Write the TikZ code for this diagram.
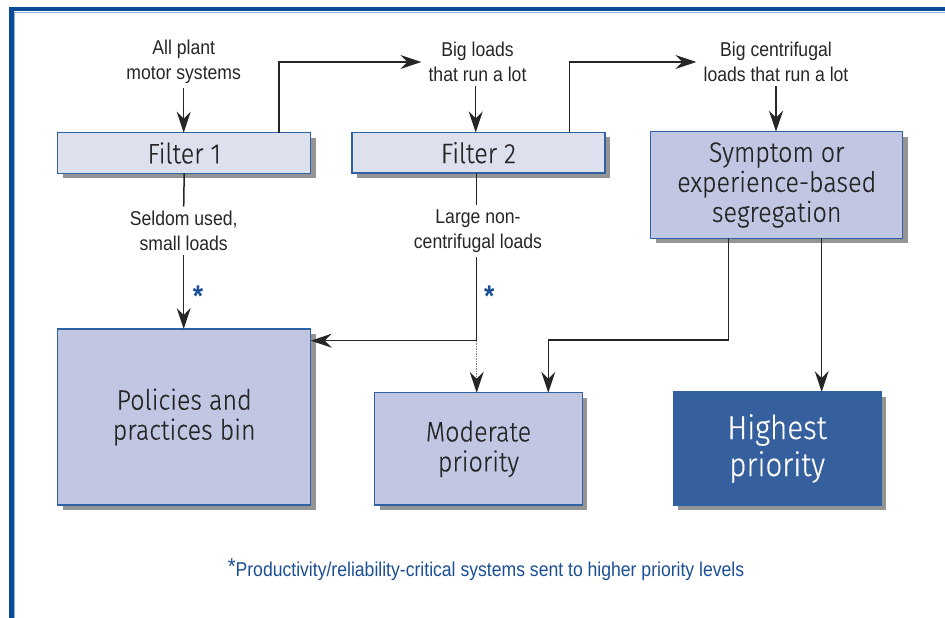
\documentclass[tikz,border=0pt]{standalone}
\usepackage{fontspec}
\setmainfont{Liberation Sans}
\newfontfamily\labelfont[FakeStretch=0.88]{Liberation Sans}
\newfontfamily\boxfont[FakeStretch=0.895,FakeBold=0.3]{Fira Sans Light}
\usetikzlibrary{arrows.meta,shadows,calc}

\definecolor{frameblue}{HTML}{0B4C97}
\definecolor{framelight}{HTML}{8FB0DA}
\definecolor{boxedge}{HTML}{2E62A3}
\definecolor{filterfill}{HTML}{DDE1EE}
\definecolor{binfill}{HTML}{C1C7E2}
\definecolor{topfill}{HTML}{365F9E}
\definecolor{shadowgray}{HTML}{959595}
\definecolor{linegray}{HTML}{262626}
\definecolor{noteblue}{HTML}{1A4F95}

\tikzset{
  box/.style={draw=boxedge, line width=1.2pt, inner sep=0pt, outer sep=0pt,
    align=center, text=linegray,
    drop shadow={shadow xshift=5pt, shadow yshift=-5pt, fill=shadowgray, opacity=1}},
  filterbox/.style={box, fill=filterfill, minimum width=253pt, minimum height=40.6pt,
    font=\boxfont\fontsize{28}{30}\selectfont},
  binbox/.style={box, fill=binfill, font=\boxfont\fontsize{28}{30}\selectfont},
  topbox/.style={box, fill=topfill, text=white, font=\boxfont\fontsize{33}{37}\selectfont},
  flowlabel/.style={font=\labelfont\fontsize{20}{25.5}\selectfont, align=center,
    text=linegray, inner xsep=7pt, inner ysep=4pt},
  starmark/.style={font=\labelfont\bfseries\fontsize{30}{30}\selectfont, text=noteblue, inner sep=0pt},
  conn/.style={draw=linegray, line width=1.5pt},
  tip/.style={-{Stealth[length=21pt,width=14pt,inset=7pt,color=linegray]}},
}

\begin{document}
\begin{tikzpicture}[x=1pt,y=-1pt]
\useasboundingbox (0,0) rectangle (945,618);

% frame
\draw[frameblue, line width=4.6pt] (11.6,618) -- (11.6,9.2) -- (945,9.2);
\draw[framelight, line width=1.2pt] (14.6,618) -- (14.6,12.2) -- (945,12.2);

% boxes
\node[filterbox] (f1) at (184.2,153) {Filter 1};
\node[filterbox] (f2) at (478.5,152.7) {Filter 2};
\node[binbox, minimum width=252pt, minimum height=106.6pt] (sym) at (776.7,185)
  {Symptom or\\experience-based\\segregation};
\node[binbox, minimum width=253pt, minimum height=176pt] (pol) at (184.2,417)
  {Policies and\\practices bin};
\node[binbox, minimum width=207.6pt, minimum height=112.3pt] (mod) at (478.5,448.9)
  {Moderate\\priority};
\node[topbox, minimum width=207.7pt, minimum height=113pt] (hi) at (777.2,448.5)
  {Highest\\priority};

% flow labels
\node[flowlabel] (l0) at (183.7,62) {All plant\\motor systems};
\node[flowlabel] (l1) at (477.5,62) {Big loads\\that run a lot};
\node[flowlabel] (l2) at (776,62) {Big centrifugal\\loads that run a lot};
\node[flowlabel] (l3) at (183.7,231) {Seldom used,\\small loads};
\node[flowlabel] (l4) at (478,231) {Large non-\\centrifugal loads};

% asterisks
\node[starmark] (s1) at (198,296) {*};
\node[starmark] (s2) at (489.3,296) {*};

% junctions
\coordinate (j1) at ([xshift=95pt]f1.north);
\coordinate (j2) at (476.7,340.7);
\coordinate (j3) at ([xshift=-48.4pt]sym.south);
\coordinate (j4) at (548.3,340);
\coordinate (j5) at ([xshift=45pt]sym.south);

% connectors
\draw[conn,tip] (l0.south) -- (l0.south |- f1.north);
\draw[conn,tip] (j1) |- (l1.west);
\draw[conn,tip] ([xshift=-1.8pt]l1.south) -- ([xshift=-1.8pt]l1.south |- f2.north);
\draw[conn,tip] ([xshift=90.8pt]f2.north) |- (l2.west);
\draw[conn,tip] (l2.south) -- (l2.south |- sym.north);

\draw[conn] (f1.south) -- (l3.north);
\draw[conn,tip] (l3.south) -- (l3.south |- pol.north);

\draw[conn] (j2 |- f2.south) -- (j2 |- l4.north);
\draw[conn] (j2 |- l4.south) -- (j2);
\draw[conn,tip] (j2) -- (j2 -| pol.east);
\draw[conn,tip,densely dotted,draw=gray] (j2) -- (j2 |- mod.north);

\draw[conn,tip] (j3) |- (j4) -- (j4 |- mod.north);
\draw[conn,tip] (j5) -- (j5 |- hi.north);

% footnote
\node[text=noteblue, font=\labelfont\fontsize{20}{22}\selectfont, inner sep=0pt] (note) at (486,570)
  {\raisebox{2pt}{\fontsize{23}{23}\selectfont *}Productivity/reliability-critical systems sent to higher priority levels};
\end{tikzpicture}
\end{document}
